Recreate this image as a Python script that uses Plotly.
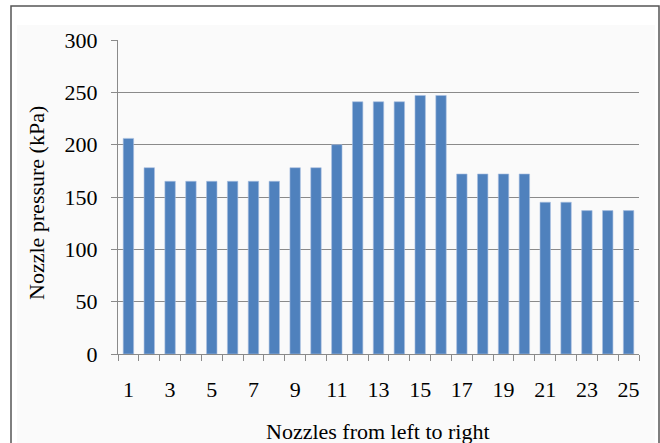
import plotly.graph_objects as go

# Nozzle index along the boom and measured pressure at each nozzle (kPa)
nozzles = list(range(1, 26))
pressure = [206, 178, 165, 165, 165, 165, 165, 165, 178, 178,
            200, 241, 241, 241, 247, 247, 172, 172, 172, 172,
            145, 145, 137, 137, 137]

x_tick_vals = list(range(1, 26, 2))
x_tick_text = [str(v) for v in x_tick_vals]
y_tick_vals = [0, 50, 100, 150, 200, 250, 300]

W, H = 660, 443
L, R, T, B = 118, 21, 40, 89
pw, ph = W - L - R, H - T - B


def px_x(p):
    return (p - L) / pw


def px_y(p):
    return (H - B - p) / ph


font = dict(family="Liberation Serif, Times New Roman, serif", size=22, color="#000000")
grid = "#8a8a8a"

fig = go.Figure(
    go.Bar(
        x=nozzles,
        y=pressure,
        width=0.5,
        marker=dict(color="#4f81bd", line=dict(color="#a9c0e0", width=0.6)),
    )
)

fig.update_layout(
    width=W,
    height=H,
    margin=dict(l=L, r=R, t=T, b=B),
    paper_bgcolor="#ffffff",
    plot_bgcolor="rgba(0,0,0,0)",
    showlegend=False,
    font=font,
    xaxis=dict(
        range=[0.5, 25.5],
        tickvals=x_tick_vals,
        ticktext=x_tick_text,
        ticks="",
        ticklabelstandoff=16,
        showgrid=False,
        zeroline=False,
        showline=True,
        linecolor=grid,
        linewidth=1,
        minor=dict(
            tickvals=[i + 0.5 for i in range(0, 26)],
            ticks="outside",
            ticklen=6,
            tickcolor=grid,
            showgrid=False,
        ),
    ),
    yaxis=dict(
        range=[0, 300],
        tickvals=y_tick_vals,
        ticks="outside",
        ticklen=6,
        tickcolor=grid,
        ticklabelstandoff=9,
        showgrid=True,
        gridcolor=grid,
        gridwidth=1,
        zeroline=False,
        showline=True,
        linecolor=grid,
        linewidth=1,
    ),
    shapes=[
        # faint inner chart area
        dict(type="rect", xref="paper", yref="paper", layer="below",
             x0=px_x(17), x1=px_x(655), y0=px_y(450), y1=px_y(25),
             fillcolor="#fafafa", line=dict(width=0)),
        # outer frame
        dict(type="rect", xref="paper", yref="paper", layer="above",
             x0=px_x(11), x1=px_x(659), y0=px_y(460), y1=px_y(6),
             fillcolor="rgba(0,0,0,0)", line=dict(color="#555555", width=1.5)),
    ],
    annotations=[
        dict(text="Nozzles from left to right", xref="paper", yref="paper",
             x=px_x(378), y=px_y(431), xanchor="center", yanchor="middle",
             showarrow=False, font=font),
        dict(text="Nozzle pressure (kPa)", xref="paper", yref="paper",
             x=px_x(36), y=px_y(203), xanchor="center", yanchor="middle",
             textangle=-90, showarrow=False, font=font),
    ],
)

fig.write_html("out.html")
